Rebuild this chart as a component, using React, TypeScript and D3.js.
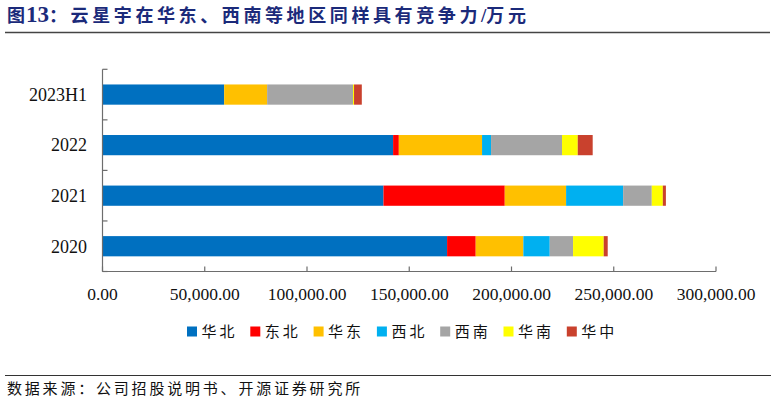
import React from 'react';
import * as d3 from 'd3';

// Categories (top to bottom) and regional series, 万元
const categories = ['2023H1', '2022', '2021', '2020'];
const regions = ['华北', '东北', '华东', '西北', '西南', '华南', '华中'];
const huabei = [59500, 142100, 137400, 168500];
const dongbei = [0, 2800, 59300, 14000];
const huadong = [21000, 40700, 30000, 23300];
const xibei = [0, 4400, 27900, 12900];
const xinan = [42000, 34700, 14000, 11400];
const huanan = [500, 7700, 5400, 15000];
const huazhong = [3800, 7300, 1500, 1950];
const xTicks = [0, 50000, 100000, 150000, 200000, 250000, 300000];

const colors = ['#0070C0', '#FF0000', '#FFC000', '#00B0F0', '#A5A5A5', '#FFFF00', '#C9412D'];

const W = 774;
const H = 405;
const plot = { left: 102.5, right: 716, top: 69.3, bottom: 271.5 };

const App: React.FC = () => {
  const seriesValues = [huabei, dongbei, huadong, xibei, xinan, huanan, huazhong];
  const table = categories.map((c, i) => {
    const row: any = { cat: c };
    regions.forEach((r, k) => (row[r] = seriesValues[k][i]));
    return row;
  });
  const stacked = d3.stack<any>().keys(regions)(table);

  const x = d3.scaleLinear().domain([0, 300000]).range([plot.left, plot.right]);
  const y = d3
    .scaleBand<string>()
    .domain(categories)
    .range([plot.top, plot.bottom])
    .paddingInner(0.6)
    .paddingOuter(0.3);
  const step = y.step();
  const fmt = d3.format(',.2f');

  const serif = "'Liberation Serif', 'Times New Roman', serif";
  const cjk = "'Noto Sans CJK SC', sans-serif";
  const axisColor = '#6d6d6d';

  // category boundary ticks on y axis
  const yBounds = d3.range(categories.length + 1).map((i) => plot.top + i * step);

  return (
    <div style={{ position: 'fixed', left: 0, top: 0 }}>
      <svg width={W} height={H} style={{ display: 'block', background: '#fff' }}>
        {/* Title */}
        <text x={7} y={22} fill="#1B2A7A" fontWeight="bold" fontSize={18} fontFamily={cjk}>
          <tspan letterSpacing={1}>图</tspan>
          <tspan fontFamily={serif} fontSize={23}>13</tspan>
          <tspan letterSpacing={3.6}>：云星宇在华东、西南等地区同样具有竞争力</tspan>
          <tspan fontFamily={serif} fontSize={19}>/</tspan>
          <tspan letterSpacing={3.6}>万元</tspan>
        </text>
        <line x1={5} x2={770} y1={32.5} y2={32.5} stroke="#444" strokeWidth={1.5} />

        {/* Bars */}
        {stacked.map((s, k) => (
          <g key={s.key} fill={colors[k]}>
            {s.map((d, i) => {
              const w = x(d[1]) - x(d[0]);
              if (w <= 0) return null;
              return (
                <rect
                  key={i}
                  x={x(d[0])}
                  y={y(categories[i])}
                  width={w}
                  height={y.bandwidth()}
                />
              );
            })}
          </g>
        ))}

        {/* Y axis */}
        <line x1={plot.left} x2={plot.left} y1={plot.top} y2={plot.bottom} stroke={axisColor} strokeWidth={1.2} />
        {yBounds.map((b, i) => (
          <line key={i} x1={plot.left} x2={plot.left + 5} y1={b} y2={b} stroke={axisColor} strokeWidth={1.2} />
        ))}
        {categories.map((c) => (
          <text
            key={c}
            x={87}
            y={(y(c) ?? 0) + y.bandwidth() / 2}
            dy="0.35em"
            textAnchor="end"
            fontFamily={serif}
            fontSize={18}
            fill="#111"
          >
            {c}
          </text>
        ))}

        {/* X axis */}
        <line x1={plot.left} x2={plot.right} y1={plot.bottom} y2={plot.bottom} stroke={axisColor} strokeWidth={1.2} />
        {xTicks.map((t) => (
          <g key={t}>
            <line x1={x(t)} x2={x(t)} y1={plot.bottom} y2={plot.bottom - 5} stroke={axisColor} strokeWidth={1.2} />
            <text
              x={x(t)}
              y={294}
              dy="0.35em"
              textAnchor="middle"
              fontFamily={serif}
              fontSize={17.5}
              fill="#111"
            >
              {fmt(t)}
            </text>
          </g>
        ))}

        {/* Legend */}
        {regions.map((r, k) => (
          <g key={r} transform={`translate(${187 + k * 63.3},331.5)`}>
            <rect x={0} y={-5} width={10} height={10} fill={colors[k]} />
            <text x={14.5} dy="0.35em" fontFamily={cjk} fontSize={15} letterSpacing={3} fill="#111">
              {r}
            </text>
          </g>
        ))}

        {/* Source */}
        <line x1={5} x2={771} y1={375.5} y2={375.5} stroke="#333" strokeWidth={1} />
        <text x={7} y={389} dy="0.35em" fontFamily={cjk} fontSize={15} letterSpacing={2.8} fill="#111">
          数据来源：公司招股说明书、开源证券研究所
        </text>
      </svg>
    </div>
  );
};

export default App;
